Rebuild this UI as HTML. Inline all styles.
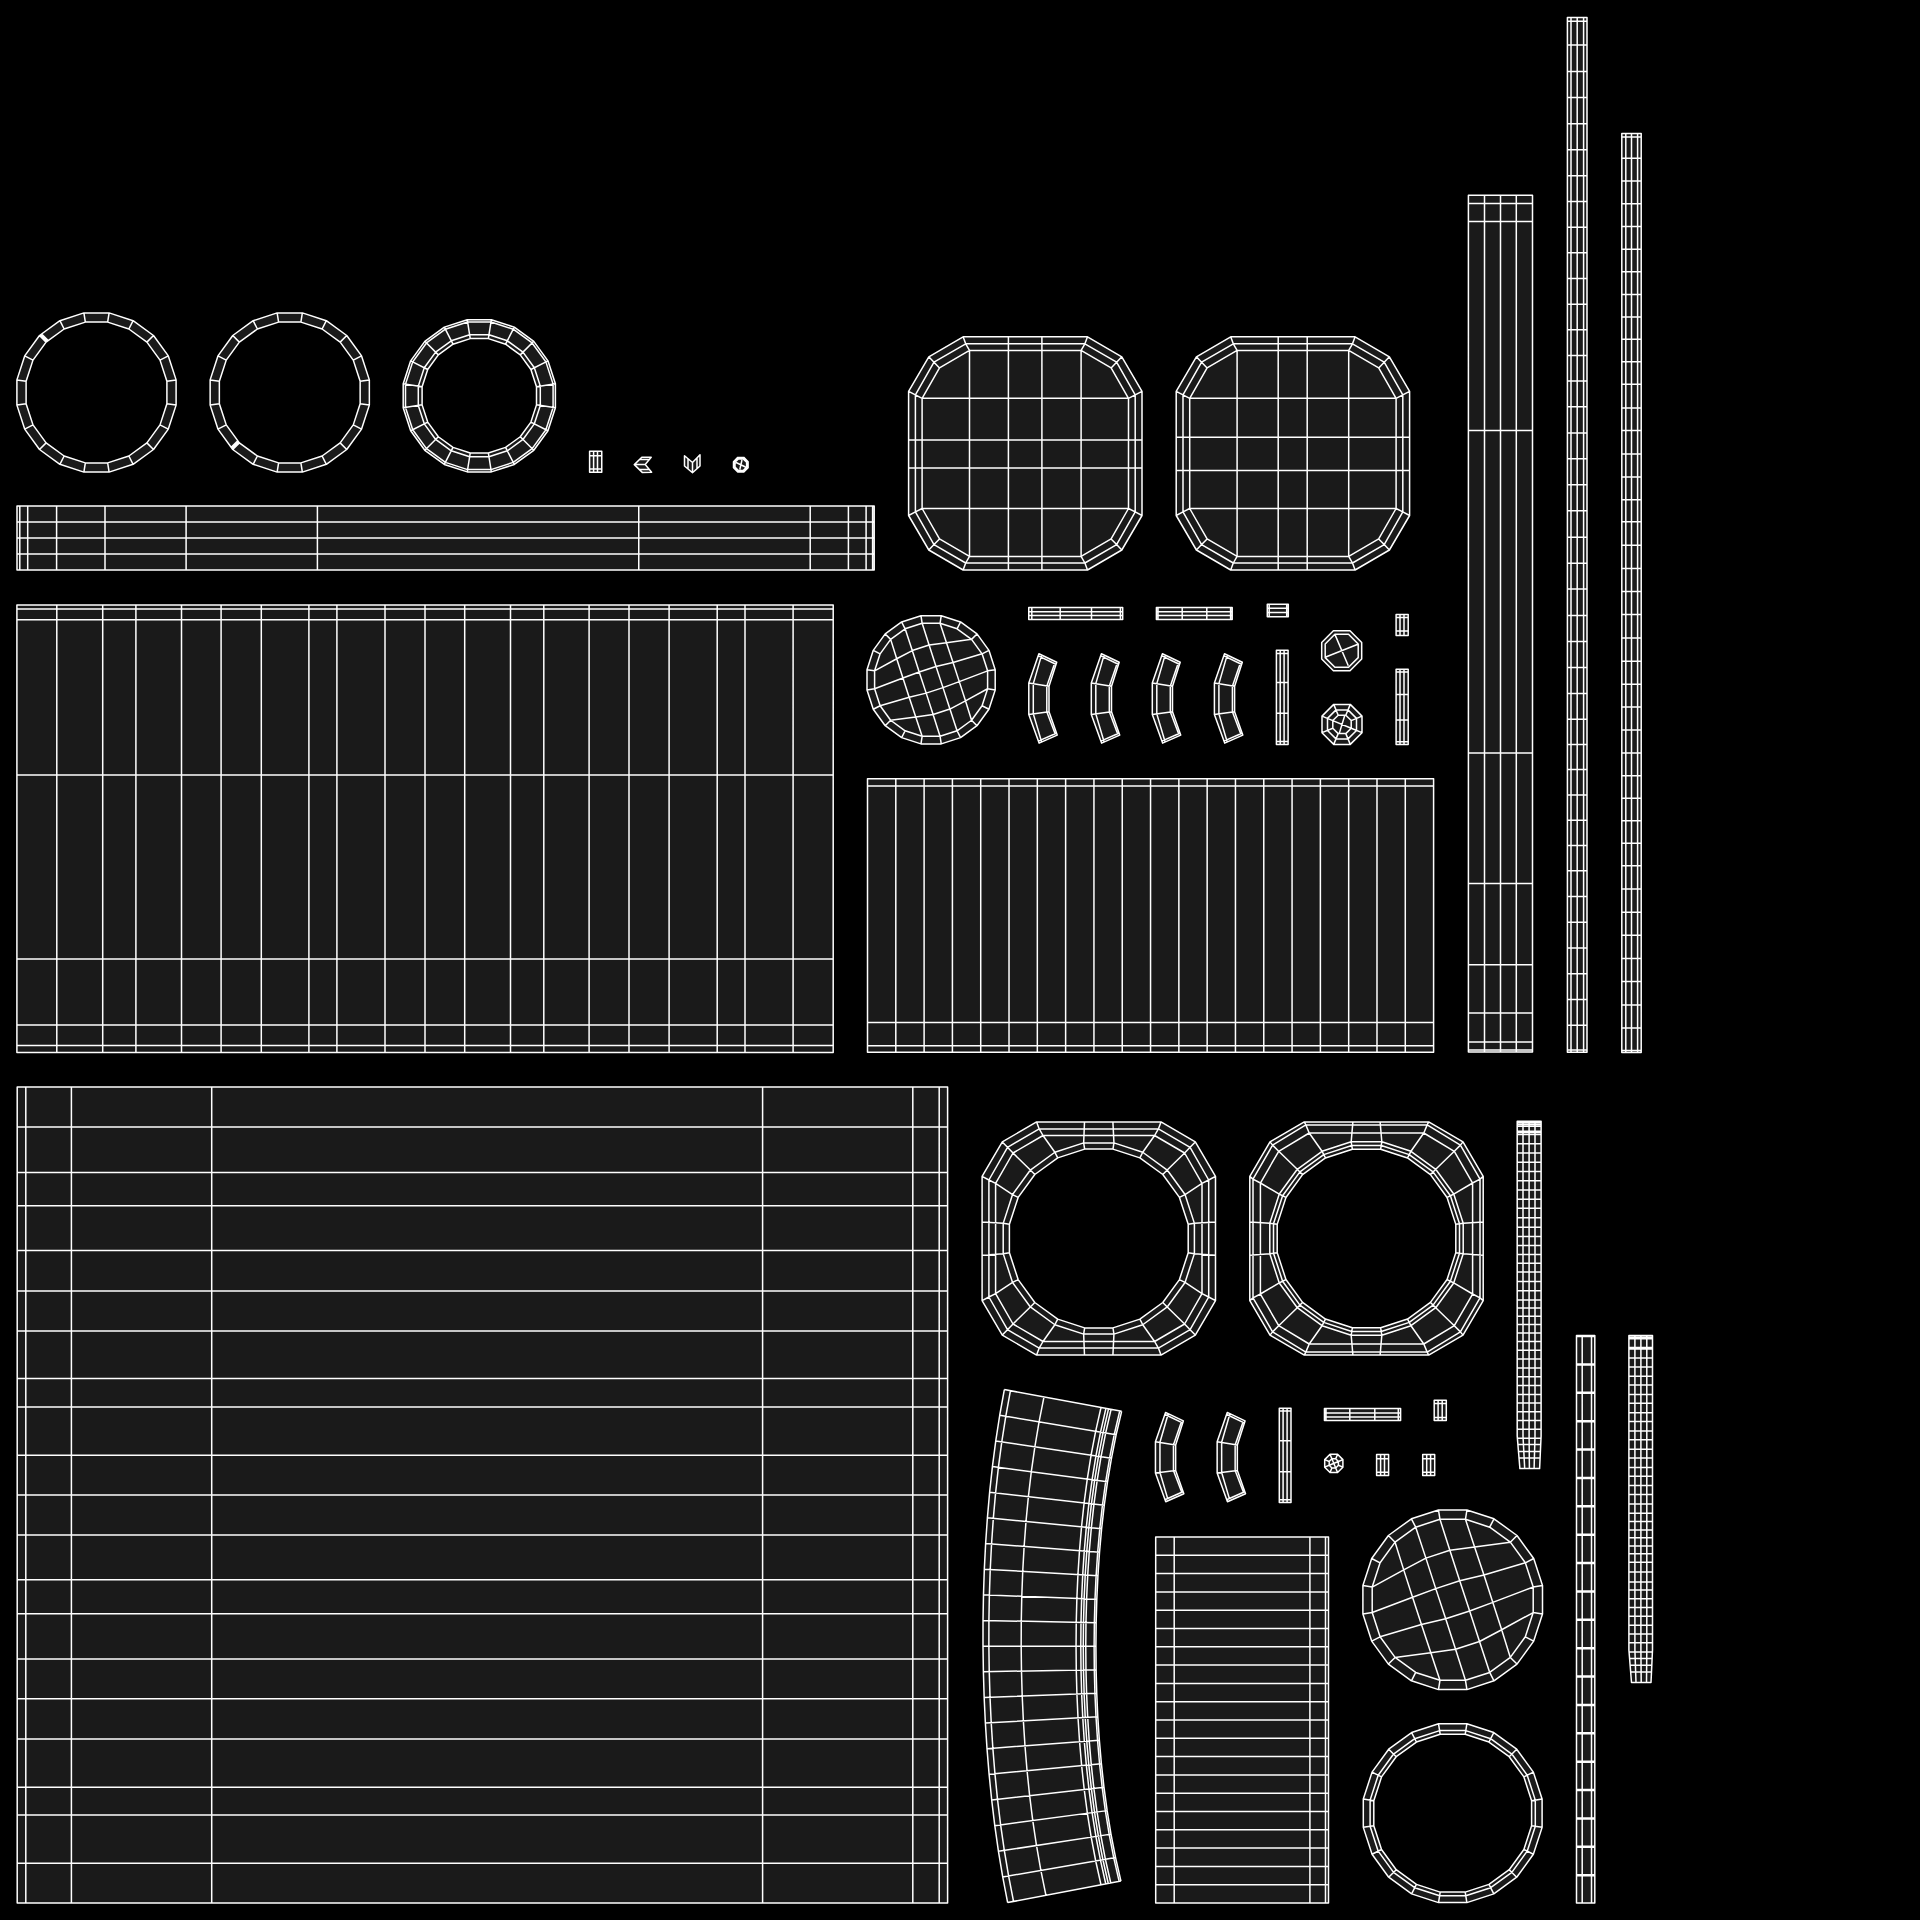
<!DOCTYPE html>
<html><head><meta charset="utf-8"><title>UV layout</title>
<style>html,body{margin:0;padding:0;background:#000;width:1920px;height:1920px;overflow:hidden}
svg{display:block}</style></head>
<body>
<svg width="1920" height="1920" viewBox="0 0 1920 1920">
<rect width="1920" height="1920" fill="#000"/>
<path fill="#1a1a1a" fill-rule="evenodd" d="M109.11 312.9 L83.89 312.9 L59.91 320.69 L39.51 335.51 L24.69 355.91 L16.9 379.89 L16.9 405.11 L24.69 429.09 L39.51 449.49 L59.91 464.31 L83.89 472.1 L109.11 472.1 L133.09 464.31 L153.49 449.49 L168.31 429.09 L176.1 405.11 L176.1 379.89 L168.31 355.91 L153.49 335.51 L133.09 320.69ZM107.65 322.1 L85.35 322.1 L64.14 328.99 L46.1 342.1 L32.99 360.14 L26.1 381.35 L26.1 403.65 L32.99 424.86 L46.1 442.9 L64.14 456.01 L85.35 462.9 L107.65 462.9 L128.86 456.01 L146.9 442.9 L160.01 424.86 L166.9 403.65 L166.9 381.35 L160.01 360.14 L146.9 342.1 L128.86 328.99ZM302.36 312.9 L277.14 312.9 L253.16 320.69 L232.76 335.51 L217.94 355.91 L210.15 379.89 L210.15 405.11 L217.94 429.09 L232.76 449.49 L253.16 464.31 L277.14 472.1 L302.36 472.1 L326.34 464.31 L346.74 449.49 L361.56 429.09 L369.35 405.11 L369.35 379.89 L361.56 355.91 L346.74 335.51 L326.34 320.69ZM300.9 322.1 L278.6 322.1 L257.39 328.99 L239.35 342.1 L226.24 360.14 L219.35 381.35 L219.35 403.65 L226.24 424.86 L239.35 442.9 L257.39 456.01 L278.6 462.9 L300.9 462.9 L322.11 456.01 L340.15 442.9 L353.26 424.86 L360.15 403.65 L360.15 381.35 L353.26 360.14 L340.15 342.1 L322.11 328.99ZM491.35 319.7 L467.25 319.7 L444.32 327.15 L424.82 341.32 L410.65 360.82 L403.2 383.75 L403.2 407.85 L410.65 430.78 L424.82 450.28 L444.32 464.45 L467.25 471.9 L491.35 471.9 L514.28 464.45 L533.78 450.28 L547.95 430.78 L555.4 407.85 L555.4 383.75 L547.95 360.82 L533.78 341.32 L514.28 327.15ZM488.36 338.6 L470.24 338.6 L453.01 344.2 L438.35 354.85 L427.7 369.51 L422.1 386.74 L422.1 404.86 L427.7 422.09 L438.35 436.75 L453.01 447.4 L470.24 453 L488.36 453 L505.59 447.4 L520.25 436.75 L530.9 422.09 L536.5 404.86 L536.5 386.74 L530.9 369.51 L520.25 354.85 L505.59 344.2ZM589.6 451.3 L601.75 451.3 L601.75 472.25 L589.6 472.25ZM634.3 464.6 L641.8 457.3 L651.2 457.3 L645.2 464.6 L651.6 472.2 L642.25 472.4ZM684.5 455.8 L692.5 462.5 L700 454.8 L700 466 L692.5 472.7 L684.5 466ZM743.82 457.4 L737.78 457.4 L733.5 461.68 L733.5 467.72 L737.78 472 L743.82 472 L748.1 467.72 L748.1 461.68ZM17 506 L874.2 506 L874.2 570 L17 570ZM16.9 604.9 L833.2 604.9 L833.2 1052.6 L16.9 1052.6ZM867.5 778.75 L1433.6 778.75 L1433.6 1052.3 L867.5 1052.3ZM963.1 336.8 L1087.5 336.8 L1121.8 356.8 L1142 391.3 L1142 515.5 L1121.8 550 L1087.5 570 L963.1 570 L928.8 550 L908.6 515.5 L908.6 391.3 L928.8 356.8ZM1230.7 336.8 L1355.1 336.8 L1389.4 356.8 L1409.6 391.3 L1409.6 515.5 L1389.4 550 L1355.1 570 L1230.7 570 L1196.4 550 L1176.2 515.5 L1176.2 391.3 L1196.4 356.8ZM1036.6 1121.9 L1161 1121.9 L1195.3 1141.9 L1215.5 1176.4 L1215.5 1300.6 L1195.3 1335.1 L1161 1355.1 L1036.6 1355.1 L1002.3 1335.1 L982.1 1300.6 L982.1 1176.4 L1002.3 1141.9ZM1112.96 1149.1 L1084.64 1149.1 L1057.71 1157.85 L1034.8 1174.5 L1018.15 1197.41 L1009.4 1224.34 L1009.4 1252.66 L1018.15 1279.59 L1034.8 1302.5 L1057.71 1319.15 L1084.64 1327.9 L1112.96 1327.9 L1139.89 1319.15 L1162.8 1302.5 L1179.45 1279.59 L1188.2 1252.66 L1188.2 1224.34 L1179.45 1197.41 L1162.8 1174.5 L1139.89 1157.85ZM1304.3 1121.9 L1428.7 1121.9 L1463 1141.9 L1483.2 1176.4 L1483.2 1300.6 L1463 1335.1 L1428.7 1355.1 L1304.3 1355.1 L1270 1335.1 L1249.8 1300.6 L1249.8 1176.4 L1270 1141.9ZM1380.64 1149.2 L1352.36 1149.2 L1325.45 1157.94 L1302.57 1174.57 L1285.94 1197.45 L1277.2 1224.36 L1277.2 1252.64 L1285.94 1279.55 L1302.57 1302.43 L1325.45 1319.06 L1352.36 1327.8 L1380.64 1327.8 L1407.55 1319.06 L1430.43 1302.43 L1447.06 1279.55 L1455.8 1252.64 L1455.8 1224.36 L1447.06 1197.45 L1430.43 1174.57 L1407.55 1157.94ZM941.25 615.7 L920.95 615.7 L901.64 621.97 L885.21 633.91 L873.27 650.34 L867 669.65 L867 689.95 L873.27 709.26 L885.21 725.69 L901.64 737.63 L920.95 743.9 L941.25 743.9 L960.56 737.63 L976.99 725.69 L988.93 709.26 L995.2 689.95 L995.2 669.65 L988.93 650.34 L976.99 633.91 L960.56 621.97ZM1466.92 1510 L1438.48 1510 L1411.42 1518.79 L1388.41 1535.51 L1371.69 1558.52 L1362.9 1585.58 L1362.9 1614.02 L1371.69 1641.08 L1388.41 1664.09 L1411.42 1680.81 L1438.48 1689.6 L1466.92 1689.6 L1493.98 1680.81 L1516.99 1664.09 L1533.71 1641.08 L1542.5 1614.02 L1542.5 1585.58 L1533.71 1558.52 L1516.99 1535.51 L1493.98 1518.79ZM1466.86 1723.8 L1438.54 1723.8 L1411.61 1732.55 L1388.7 1749.2 L1372.05 1772.11 L1363.3 1799.04 L1363.3 1827.36 L1372.05 1854.29 L1388.7 1877.2 L1411.61 1893.85 L1438.54 1902.6 L1466.86 1902.6 L1493.79 1893.85 L1516.7 1877.2 L1533.35 1854.29 L1542.1 1827.36 L1542.1 1799.04 L1533.35 1772.11 L1516.7 1749.2 L1493.79 1732.55ZM1465.2 1734.3 L1440.2 1734.3 L1416.43 1742.02 L1396.21 1756.71 L1381.52 1776.93 L1373.8 1800.7 L1373.8 1825.7 L1381.52 1849.47 L1396.21 1869.69 L1416.43 1884.38 L1440.2 1892.1 L1465.2 1892.1 L1488.97 1884.38 L1509.19 1869.69 L1523.88 1849.47 L1531.6 1825.7 L1531.6 1800.7 L1523.88 1776.93 L1509.19 1756.71 L1488.97 1742.02ZM1038.9 653.8 L1056.7 662.3 L1049 686.3 L1049 711.8 L1057.2 735.1 L1039.1 743.1 L1028.8 714.4 L1028.8 683.1ZM1101.4 653.8 L1119.2 662.3 L1111.5 686.3 L1111.5 711.8 L1119.7 735.1 L1101.6 743.1 L1091.3 714.4 L1091.3 683.1ZM1162.4 653.8 L1180.2 662.3 L1172.5 686.3 L1172.5 711.8 L1180.7 735.1 L1162.6 743.1 L1152.3 714.4 L1152.3 683.1ZM1224.5 653.8 L1242.3 662.3 L1234.6 686.3 L1234.6 711.8 L1242.8 735.1 L1224.7 743.1 L1214.4 714.4 L1214.4 683.1ZM1165.55 1412.4 L1183.35 1420.9 L1175.65 1444.9 L1175.65 1470.4 L1183.85 1493.7 L1165.75 1501.7 L1155.45 1473 L1155.45 1441.7ZM1227.25 1412.4 L1245.05 1420.9 L1237.35 1444.9 L1237.35 1470.4 L1245.55 1493.7 L1227.45 1501.7 L1217.15 1473 L1217.15 1441.7ZM1028.75 607.4 L1122.7 607.4 L1122.7 619.5 L1028.75 619.5ZM1156.4 607.4 L1232.2 607.4 L1232.2 619.5 L1156.4 619.5ZM1267.3 604.2 L1288.3 604.2 L1288.3 616.7 L1267.3 616.7ZM1276.4 650.3 L1288.1 650.3 L1288.1 744.6 L1276.4 744.6ZM1396.1 614.5 L1408.2 614.5 L1408.2 635.5 L1396.1 635.5ZM1396.1 669.2 L1408.2 669.2 L1408.2 744.6 L1396.1 744.6ZM1349.98 630.8 L1333.42 630.8 L1321.7 642.52 L1321.7 659.08 L1333.42 670.8 L1349.98 670.8 L1361.7 659.08 L1361.7 642.52ZM1350.28 704.4 L1333.72 704.4 L1322 716.12 L1322 732.68 L1333.72 744.4 L1350.28 744.4 L1362 732.68 L1362 716.12ZM1279.3 1408.3 L1291 1408.3 L1291 1502.5 L1279.3 1502.5ZM1324.45 1408.5 L1400.6 1408.5 L1400.6 1420.5 L1324.45 1420.5ZM1434.2 1400.2 L1446.3 1400.2 L1446.3 1420.6 L1434.2 1420.6ZM1376.6 1454.4 L1388.6 1454.4 L1388.6 1475.6 L1376.6 1475.6ZM1422.7 1454.4 L1434.7 1454.4 L1434.7 1475.6 L1422.7 1475.6ZM1337.57 1454.3 L1330.03 1454.3 L1324.7 1459.63 L1324.7 1467.17 L1330.03 1472.5 L1337.57 1472.5 L1342.9 1467.17 L1342.9 1459.63ZM1155.7 1537 L1328.5 1537 L1328.5 1903 L1155.7 1903ZM17.2 1087 L947.6 1087 L947.6 1902.9 L17.2 1902.9ZM1004.34 1389.6 L999.71 1415.25 L995.76 1440.9 L992.41 1466.55 L989.64 1492.2 L987.39 1517.85 L985.63 1543.5 L984.33 1569.15 L983.47 1594.8 L983.03 1620.45 L983 1646.1 L983.38 1671.75 L984.16 1697.4 L985.37 1723.05 L987.01 1748.7 L989.11 1774.35 L991.69 1800 L994.79 1825.65 L998.45 1851.3 L1002.72 1876.95 L1007.65 1902.6 L1120.96 1881.1 L1115.57 1857.61 L1110.99 1834.12 L1107.15 1810.63 L1103.96 1787.14 L1101.38 1763.65 L1099.34 1740.16 L1097.8 1716.67 L1096.74 1693.18 L1096.11 1669.69 L1095.92 1646.2 L1096.16 1622.71 L1096.82 1599.22 L1097.94 1575.73 L1099.53 1552.24 L1101.62 1528.75 L1104.27 1505.26 L1107.53 1481.77 L1111.46 1458.28 L1116.13 1434.79 L1121.64 1411.3ZM1468.4 195.3 L1532.5 195.3 L1532.5 195.3 L1532.5 1052.1 L1532.5 1052.1 L1468.4 1052.1 L1468.4 1052.1 L1468.4 195.3ZM1567.4 17.6 L1587 17.6 L1587 17.6 L1587 1052.3 L1587 1052.3 L1567.4 1052.3 L1567.4 1052.3 L1567.4 17.6ZM1621.8 133.5 L1641.2 133.5 L1641.2 133.5 L1641.2 1052.6 L1641.2 1052.6 L1621.8 1052.6 L1621.8 1052.6 L1621.8 133.5ZM1517.2 1121.25 L1541.1 1121.25 L1541.1 1436 L1539.6 1468.6 L1519.9 1468.6 L1517.2 1436ZM1576.5 1335.4 L1594.8 1335.4 L1594.8 1335.4 L1594.8 1903.1 L1594.8 1903.1 L1576.5 1903.1 L1576.5 1903.1 L1576.5 1335.4ZM1628.9 1335.4 L1652.5 1335.4 L1652.5 1650 L1651 1682.5 L1631.5 1682.5 L1628.9 1650Z"/>
<path fill="none" stroke="#ffffff" stroke-width="1.5" stroke-linejoin="round" d="M109.11 312.9 L83.89 312.9 L59.91 320.69 L39.51 335.51 L24.69 355.91 L16.9 379.89 L16.9 405.11 L24.69 429.09 L39.51 449.49 L59.91 464.31 L83.89 472.1 L109.11 472.1 L133.09 464.31 L153.49 449.49 L168.31 429.09 L176.1 405.11 L176.1 379.89 L168.31 355.91 L153.49 335.51 L133.09 320.69ZM107.65 322.1 L85.35 322.1 L64.14 328.99 L46.1 342.1 L32.99 360.14 L26.1 381.35 L26.1 403.65 L32.99 424.86 L46.1 442.9 L64.14 456.01 L85.35 462.9 L107.65 462.9 L128.86 456.01 L146.9 442.9 L160.01 424.86 L166.9 403.65 L166.9 381.35 L160.01 360.14 L146.9 342.1 L128.86 328.99ZM109.11 312.9L107.65 322.1M83.89 312.9L85.35 322.1M59.91 320.69L64.14 328.99M39.51 335.51L46.1 342.1M24.69 355.91L32.99 360.14M16.9 379.89L26.1 381.35M16.9 405.11L26.1 403.65M24.69 429.09L32.99 424.86M39.51 449.49L46.1 442.9M59.91 464.31L64.14 456.01M83.89 472.1L85.35 462.9M109.11 472.1L107.65 462.9M133.09 464.31L128.86 456.01M153.49 449.49L146.9 442.9M168.31 429.09L160.01 424.86M176.1 405.11L166.9 403.65M176.1 379.89L166.9 381.35M168.31 355.91L160.01 360.14M153.49 335.51L146.9 342.1M133.09 320.69L128.86 328.99M302.36 312.9 L277.14 312.9 L253.16 320.69 L232.76 335.51 L217.94 355.91 L210.15 379.89 L210.15 405.11 L217.94 429.09 L232.76 449.49 L253.16 464.31 L277.14 472.1 L302.36 472.1 L326.34 464.31 L346.74 449.49 L361.56 429.09 L369.35 405.11 L369.35 379.89 L361.56 355.91 L346.74 335.51 L326.34 320.69ZM300.9 322.1 L278.6 322.1 L257.39 328.99 L239.35 342.1 L226.24 360.14 L219.35 381.35 L219.35 403.65 L226.24 424.86 L239.35 442.9 L257.39 456.01 L278.6 462.9 L300.9 462.9 L322.11 456.01 L340.15 442.9 L353.26 424.86 L360.15 403.65 L360.15 381.35 L353.26 360.14 L340.15 342.1 L322.11 328.99ZM302.36 312.9L300.9 322.1M277.14 312.9L278.6 322.1M253.16 320.69L257.39 328.99M232.76 335.51L239.35 342.1M217.94 355.91L226.24 360.14M210.15 379.89L219.35 381.35M210.15 405.11L219.35 403.65M217.94 429.09L226.24 424.86M232.76 449.49L239.35 442.9M253.16 464.31L257.39 456.01M277.14 472.1L278.6 462.9M302.36 472.1L300.9 462.9M326.34 464.31L322.11 456.01M346.74 449.49L340.15 442.9M361.56 429.09L353.26 424.86M369.35 405.11L360.15 403.65M369.35 379.89L360.15 381.35M361.56 355.91L353.26 360.14M346.74 335.51L340.15 342.1M326.34 320.69L322.11 328.99M491.35 319.7 L467.25 319.7 L444.32 327.15 L424.82 341.32 L410.65 360.82 L403.2 383.75 L403.2 407.85 L410.65 430.78 L424.82 450.28 L444.32 464.45 L467.25 471.9 L491.35 471.9 L514.28 464.45 L533.78 450.28 L547.95 430.78 L555.4 407.85 L555.4 383.75 L547.95 360.82 L533.78 341.32 L514.28 327.15ZM490.99 322 L467.61 322 L445.38 329.22 L426.47 342.97 L412.72 361.88 L405.5 384.11 L405.5 407.49 L412.72 429.72 L426.47 448.63 L445.38 462.38 L467.61 469.6 L490.99 469.6 L513.22 462.38 L532.13 448.63 L545.88 429.72 L553.1 407.49 L553.1 384.11 L545.88 361.88 L532.13 342.97 L513.22 329.22ZM488.96 334.8 L469.64 334.8 L451.26 340.77 L435.63 352.13 L424.27 367.76 L418.3 386.14 L418.3 405.46 L424.27 423.84 L435.63 439.47 L451.26 450.83 L469.64 456.8 L488.96 456.8 L507.34 450.83 L522.97 439.47 L534.33 423.84 L540.3 405.46 L540.3 386.14 L534.33 367.76 L522.97 352.13 L507.34 340.77ZM488.36 338.6 L470.24 338.6 L453.01 344.2 L438.35 354.85 L427.7 369.51 L422.1 386.74 L422.1 404.86 L427.7 422.09 L438.35 436.75 L453.01 447.4 L470.24 453 L488.36 453 L505.59 447.4 L520.25 436.75 L530.9 422.09 L536.5 404.86 L536.5 386.74 L530.9 369.51 L520.25 354.85 L505.59 344.2ZM491.35 319.7L488.36 338.6M467.25 319.7L470.24 338.6M444.32 327.15L453.01 344.2M424.82 341.32L438.35 354.85M410.65 360.82L427.7 369.51M403.2 383.75L422.1 386.74M403.2 407.85L422.1 404.86M410.65 430.78L427.7 422.09M424.82 450.28L438.35 436.75M444.32 464.45L453.01 447.4M467.25 471.9L470.24 453M491.35 471.9L488.36 453M514.28 464.45L505.59 447.4M533.78 450.28L520.25 436.75M547.95 430.78L530.9 422.09M555.4 407.85L536.5 404.86M555.4 383.75L536.5 386.74M547.95 360.82L530.9 369.51M533.78 341.32L520.25 354.85M514.28 327.15L505.59 344.2M40.43 334.59L47.02 341.18M41.35 333.67L47.94 340.26M231.84 448.57L238.43 441.98M230.92 447.65L237.51 441.06M589.6 451.3 L601.75 451.3 L601.75 472.25 L589.6 472.25ZM593.6 451.3L593.6 472.25M597.5 451.3L597.5 472.25M589.6 455.7L601.75 455.7M589.6 469.1L601.75 469.1M634.3 464.6 L641.8 457.3 L651.2 457.3 L645.2 464.6 L651.6 472.2 L642.25 472.4ZM639.4 459.6L649.3 459.6M634.3 464.6L645.2 464.6M639.3 469.6L649.6 469.6M684.5 455.8 L692.5 462.5 L700 454.8 L700 466 L692.5 472.7 L684.5 466ZM692.5 462.5L692.5 472.7M688 458.8L688 469M697 457.5L697 469M743.82 457.4 L737.78 457.4 L733.5 461.68 L733.5 467.72 L737.78 472 L743.82 472 L748.1 467.72 L748.1 461.68ZM743.2 458.9 L738.4 458.9 L735 462.3 L735 467.1 L738.4 470.5 L743.2 470.5 L746.6 467.1 L746.6 462.3ZM736 462.5L745.5 467M739.8 469.5L742 460M17 506 L874.2 506 L874.2 570 L17 570ZM19.8 506L19.8 570M27.7 506L27.7 570M56.6 506L56.6 570M105 506L105 570M186.1 506L186.1 570M317.4 506L317.4 570M638.75 506L638.75 570M810.2 506L810.2 570M848.4 506L848.4 570M866.1 506L866.1 570M872.6 506L872.6 570M17 522.1L874.2 522.1M17 538.1L874.2 538.1M17 554.1L874.2 554.1M16.9 604.9 L833.2 604.9 L833.2 1052.6 L16.9 1052.6ZM56.8 604.9L56.8 1052.6M102.7 604.9L102.7 1052.6M135.9 604.9L135.9 1052.6M181.5 604.9L181.5 1052.6M221.1 604.9L221.1 1052.6M261.3 604.9L261.3 1052.6M308.9 604.9L308.9 1052.6M336.9 604.9L336.9 1052.6M385 604.9L385 1052.6M425 604.9L425 1052.6M464.7 604.9L464.7 1052.6M510.5 604.9L510.5 1052.6M543.8 604.9L543.8 1052.6M589.1 604.9L589.1 1052.6M629 604.9L629 1052.6M669.1 604.9L669.1 1052.6M717.2 604.9L717.2 1052.6M745 604.9L745 1052.6M793.1 604.9L793.1 1052.6M16.9 609L833.2 609M16.9 619.8L833.2 619.8M16.9 775L833.2 775M16.9 959L833.2 959M16.9 1024.9L833.2 1024.9M16.9 1045.4L833.2 1045.4M867.5 778.75 L1433.6 778.75 L1433.6 1052.3 L867.5 1052.3ZM895.8 778.75L895.8 1052.3M924.11 778.75L924.11 1052.3M952.41 778.75L952.41 1052.3M980.72 778.75L980.72 1052.3M1009.02 778.75L1009.02 1052.3M1037.33 778.75L1037.33 1052.3M1065.63 778.75L1065.63 1052.3M1093.94 778.75L1093.94 1052.3M1122.24 778.75L1122.24 1052.3M1150.55 778.75L1150.55 1052.3M1178.86 778.75L1178.86 1052.3M1207.16 778.75L1207.16 1052.3M1235.46 778.75L1235.46 1052.3M1263.77 778.75L1263.77 1052.3M1292.07 778.75L1292.07 1052.3M1320.38 778.75L1320.38 1052.3M1348.68 778.75L1348.68 1052.3M1376.99 778.75L1376.99 1052.3M1405.29 778.75L1405.29 1052.3M867.5 786.1L1433.6 786.1M867.5 1022.5L1433.6 1022.5M867.5 1045.8L1433.6 1045.8M963.1 336.8 L1087.5 336.8 L1121.8 356.8 L1142 391.3 L1142 515.5 L1121.8 550 L1087.5 570 L963.1 570 L928.8 550 L908.6 515.5 L908.6 391.3 L928.8 356.8ZM965.7 343.8 L1084.9 343.8 L1116.6 362.2 L1135.2 394.9 L1135.2 511.9 L1116.6 544.6 L1084.9 563 L965.7 563 L934 544.6 L915.4 511.9 L915.4 394.9 L934 362.2ZM969.5 350.4 L1081.1 350.4 L1111.1 367.9 L1128.5 398.3 L1128.5 508.5 L1111.1 538.9 L1081.1 556.4 L969.5 556.4 L939.5 538.9 L922.1 508.5 L922.1 398.3 L939.5 367.9ZM963.1 336.8 L965.7 343.8 L969.5 350.4M1087.5 336.8 L1084.9 343.8 L1081.1 350.4M1121.8 356.8 L1116.6 362.2 L1111.1 367.9M1142 391.3 L1135.2 394.9 L1128.5 398.3M1142 515.5 L1135.2 511.9 L1128.5 508.5M1121.8 550 L1116.6 544.6 L1111.1 538.9M1087.5 570 L1084.9 563 L1081.1 556.4M963.1 570 L965.7 563 L969.5 556.4M928.8 550 L934 544.6 L939.5 538.9M908.6 515.5 L915.4 511.9 L922.1 508.5M908.6 391.3 L915.4 394.9 L922.1 398.3M928.8 356.8 L934 362.2 L939.5 367.9M969.5 350.4L969.5 556.4M1081.1 350.4L1081.1 556.4M922.1 398.3L1128.5 398.3M922.1 508.5L1128.5 508.5M1008.4 336.8L1008.4 570M1041.9 336.8L1041.9 570M908.6 439.9L1142 439.9M908.6 467.9L1142 467.9M1230.7 336.8 L1355.1 336.8 L1389.4 356.8 L1409.6 391.3 L1409.6 515.5 L1389.4 550 L1355.1 570 L1230.7 570 L1196.4 550 L1176.2 515.5 L1176.2 391.3 L1196.4 356.8ZM1233.3 343.8 L1352.5 343.8 L1384.2 362.2 L1402.8 394.9 L1402.8 511.9 L1384.2 544.6 L1352.5 563 L1233.3 563 L1201.6 544.6 L1183 511.9 L1183 394.9 L1201.6 362.2ZM1237.1 350.4 L1348.7 350.4 L1378.7 367.9 L1396.1 398.3 L1396.1 508.5 L1378.7 538.9 L1348.7 556.4 L1237.1 556.4 L1207.1 538.9 L1189.7 508.5 L1189.7 398.3 L1207.1 367.9ZM1230.7 336.8 L1233.3 343.8 L1237.1 350.4M1355.1 336.8 L1352.5 343.8 L1348.7 350.4M1389.4 356.8 L1384.2 362.2 L1378.7 367.9M1409.6 391.3 L1402.8 394.9 L1396.1 398.3M1409.6 515.5 L1402.8 511.9 L1396.1 508.5M1389.4 550 L1384.2 544.6 L1378.7 538.9M1355.1 570 L1352.5 563 L1348.7 556.4M1230.7 570 L1233.3 563 L1237.1 556.4M1196.4 550 L1201.6 544.6 L1207.1 538.9M1176.2 515.5 L1183 511.9 L1189.7 508.5M1176.2 391.3 L1183 394.9 L1189.7 398.3M1196.4 356.8 L1201.6 362.2 L1207.1 367.9M1237.1 350.4L1237.1 556.4M1348.7 350.4L1348.7 556.4M1189.7 398.3L1396.1 398.3M1189.7 508.5L1396.1 508.5M1278.2 336.8L1278.2 570M1307.2 336.8L1307.2 570M1176.2 437.2L1409.6 437.2M1176.2 470.6L1409.6 470.6M1036.6 1121.9 L1161 1121.9 L1195.3 1141.9 L1215.5 1176.4 L1215.5 1300.6 L1195.3 1335.1 L1161 1355.1 L1036.6 1355.1 L1002.3 1335.1 L982.1 1300.6 L982.1 1176.4 L1002.3 1141.9ZM1039.2 1128.9 L1158.4 1128.9 L1190.1 1147.3 L1208.7 1180 L1208.7 1297 L1190.1 1329.7 L1158.4 1348.1 L1039.2 1348.1 L1007.5 1329.7 L988.9 1297 L988.9 1180 L1007.5 1147.3ZM1043 1135.5 L1154.6 1135.5 L1184.6 1153 L1202 1183.4 L1202 1293.6 L1184.6 1324 L1154.6 1341.5 L1043 1341.5 L1013 1324 L995.6 1293.6 L995.6 1183.4 L1013 1153ZM1113.94 1142.9 L1083.66 1142.9 L1054.86 1152.26 L1030.36 1170.06 L1012.56 1194.56 L1003.2 1223.36 L1003.2 1253.64 L1012.56 1282.44 L1030.36 1306.94 L1054.86 1324.74 L1083.66 1334.1 L1113.94 1334.1 L1142.74 1324.74 L1167.24 1306.94 L1185.04 1282.44 L1194.4 1253.64 L1194.4 1223.36 L1185.04 1194.56 L1167.24 1170.06 L1142.74 1152.26ZM1112.96 1149.1 L1084.64 1149.1 L1057.71 1157.85 L1034.8 1174.5 L1018.15 1197.41 L1009.4 1224.34 L1009.4 1252.66 L1018.15 1279.59 L1034.8 1302.5 L1057.71 1319.15 L1084.64 1327.9 L1112.96 1327.9 L1139.89 1319.15 L1162.8 1302.5 L1179.45 1279.59 L1188.2 1252.66 L1188.2 1224.34 L1179.45 1197.41 L1162.8 1174.5 L1139.89 1157.85ZM1036.6 1121.9 L1039.2 1128.9 L1043 1135.5 L1054.86 1152.26 L1057.71 1157.85M1161 1121.9 L1158.4 1128.9 L1154.6 1135.5 L1142.74 1152.26 L1139.89 1157.85M1195.3 1141.9 L1190.1 1147.3 L1184.6 1153 L1167.24 1170.06 L1162.8 1174.5M1215.5 1176.4 L1208.7 1180 L1202 1183.4 L1185.04 1194.56 L1179.45 1197.41M1215.5 1300.6 L1208.7 1297 L1202 1293.6 L1185.04 1282.44 L1179.45 1279.59M1195.3 1335.1 L1190.1 1329.7 L1184.6 1324 L1167.24 1306.94 L1162.8 1302.5M1161 1355.1 L1158.4 1348.1 L1154.6 1341.5 L1142.74 1324.74 L1139.89 1319.15M1036.6 1355.1 L1039.2 1348.1 L1043 1341.5 L1054.86 1324.74 L1057.71 1319.15M1002.3 1335.1 L1007.5 1329.7 L1013 1324 L1030.36 1306.94 L1034.8 1302.5M982.1 1300.6 L988.9 1297 L995.6 1293.6 L1012.56 1282.44 L1018.15 1279.59M982.1 1176.4 L988.9 1180 L995.6 1183.4 L1012.56 1194.56 L1018.15 1197.41M1002.3 1141.9 L1007.5 1147.3 L1013 1153 L1030.36 1170.06 L1034.8 1174.5M1084.5 1121.9 L1083.66 1142.9 L1084.64 1149.1M1112.9 1121.9 L1113.94 1142.9 L1112.96 1149.1M1084.5 1355.1 L1083.66 1334.1 L1084.64 1327.9M1112.9 1355.1 L1113.94 1334.1 L1112.96 1327.9M982.1 1222.1 L1003.2 1223.36 L1009.4 1224.34M982.1 1255.2 L1003.2 1253.64 L1009.4 1252.66M1215.5 1222.1 L1194.4 1223.36 L1188.2 1224.34M1215.5 1255.2 L1194.4 1253.64 L1188.2 1252.66M1304.3 1121.9 L1428.7 1121.9 L1463 1141.9 L1483.2 1176.4 L1483.2 1300.6 L1463 1335.1 L1428.7 1355.1 L1304.3 1355.1 L1270 1335.1 L1249.8 1300.6 L1249.8 1176.4 L1270 1141.9ZM1305.8 1124.9 L1427.2 1124.9 L1460.4 1145.1 L1480 1179.1 L1480 1297.9 L1460.4 1331.9 L1427.2 1352.1 L1305.8 1352.1 L1272.6 1331.9 L1253 1297.9 L1253 1179.1 L1272.6 1145.1ZM1309.2 1133 L1423.8 1133 L1454.3 1151.3 L1472.6 1183 L1472.6 1294 L1454.3 1325.7 L1423.8 1344 L1309.2 1344 L1278.7 1325.7 L1260.4 1294 L1260.4 1183 L1278.7 1151.3ZM1381.82 1141.8 L1351.18 1141.8 L1322.05 1151.27 L1297.27 1169.27 L1279.27 1194.05 L1269.8 1223.18 L1269.8 1253.82 L1279.27 1282.95 L1297.27 1307.73 L1322.05 1325.73 L1351.18 1335.2 L1381.82 1335.2 L1410.95 1325.73 L1435.73 1307.73 L1453.73 1282.95 L1463.2 1253.82 L1463.2 1223.18 L1453.73 1194.05 L1435.73 1169.27 L1410.95 1151.27ZM1381.23 1145.5 L1351.77 1145.5 L1323.75 1154.6 L1299.92 1171.92 L1282.6 1195.75 L1273.5 1223.77 L1273.5 1253.23 L1282.6 1281.25 L1299.92 1305.08 L1323.75 1322.4 L1351.77 1331.5 L1381.23 1331.5 L1409.25 1322.4 L1433.08 1305.08 L1450.4 1281.25 L1459.5 1253.23 L1459.5 1223.77 L1450.4 1195.75 L1433.08 1171.92 L1409.25 1154.6ZM1380.64 1149.2 L1352.36 1149.2 L1325.45 1157.94 L1302.57 1174.57 L1285.94 1197.45 L1277.2 1224.36 L1277.2 1252.64 L1285.94 1279.55 L1302.57 1302.43 L1325.45 1319.06 L1352.36 1327.8 L1380.64 1327.8 L1407.55 1319.06 L1430.43 1302.43 L1447.06 1279.55 L1455.8 1252.64 L1455.8 1224.36 L1447.06 1197.45 L1430.43 1174.57 L1407.55 1157.94ZM1304.3 1121.9 L1305.8 1124.9 L1309.2 1133 L1322.05 1151.27 L1323.75 1154.6 L1325.45 1157.94M1428.7 1121.9 L1427.2 1124.9 L1423.8 1133 L1410.95 1151.27 L1409.25 1154.6 L1407.55 1157.94M1463 1141.9 L1460.4 1145.1 L1454.3 1151.3 L1435.73 1169.27 L1433.08 1171.92 L1430.43 1174.57M1483.2 1176.4 L1480 1179.1 L1472.6 1183 L1453.73 1194.05 L1450.4 1195.75 L1447.06 1197.45M1483.2 1300.6 L1480 1297.9 L1472.6 1294 L1453.73 1282.95 L1450.4 1281.25 L1447.06 1279.55M1463 1335.1 L1460.4 1331.9 L1454.3 1325.7 L1435.73 1307.73 L1433.08 1305.08 L1430.43 1302.43M1428.7 1355.1 L1427.2 1352.1 L1423.8 1344 L1410.95 1325.73 L1409.25 1322.4 L1407.55 1319.06M1304.3 1355.1 L1305.8 1352.1 L1309.2 1344 L1322.05 1325.73 L1323.75 1322.4 L1325.45 1319.06M1270 1335.1 L1272.6 1331.9 L1278.7 1325.7 L1297.27 1307.73 L1299.92 1305.08 L1302.57 1302.43M1249.8 1300.6 L1253 1297.9 L1260.4 1294 L1279.27 1282.95 L1282.6 1281.25 L1285.94 1279.55M1249.8 1176.4 L1253 1179.1 L1260.4 1183 L1279.27 1194.05 L1282.6 1195.75 L1285.94 1197.45M1270 1141.9 L1272.6 1145.1 L1278.7 1151.3 L1297.27 1169.27 L1299.92 1171.92 L1302.57 1174.57M1352.9 1121.9 L1351.18 1141.8 L1351.77 1145.5 L1352.36 1149.2M1380.1 1121.9 L1381.82 1141.8 L1381.23 1145.5 L1380.64 1149.2M1352.9 1355.1 L1351.18 1335.2 L1351.77 1331.5 L1352.36 1327.8M1380.1 1355.1 L1381.82 1335.2 L1381.23 1331.5 L1380.64 1327.8M1249.8 1222.1 L1269.8 1223.18 L1273.5 1223.77 L1277.2 1224.36M1249.8 1255.2 L1269.8 1253.82 L1273.5 1253.23 L1277.2 1252.64M1483.2 1222.1 L1463.2 1223.18 L1459.5 1223.77 L1455.8 1224.36M1483.2 1255.2 L1463.2 1253.82 L1459.5 1253.23 L1455.8 1252.64M941.25 615.7 L920.95 615.7 L901.64 621.97 L885.21 633.91 L873.27 650.34 L867 669.65 L867 689.95 L873.27 709.26 L885.21 725.69 L901.64 737.63 L920.95 743.9 L941.25 743.9 L960.56 737.63 L976.99 725.69 L988.93 709.26 L995.2 689.95 L995.2 669.65 L988.93 650.34 L976.99 633.91 L960.56 621.97ZM940.05 623.3 L922.15 623.3 L905.13 628.83 L890.65 639.35 L880.13 653.83 L874.6 670.85 L874.6 688.75 L880.13 705.77 L890.65 720.25 L905.13 730.77 L922.15 736.3 L940.05 736.3 L957.07 730.77 L971.55 720.25 L982.07 705.77 L987.6 688.75 L987.6 670.85 L982.07 653.83 L971.55 639.35 L957.07 628.83ZM941.25 615.7L940.05 623.3M920.95 615.7L922.15 623.3M901.64 621.97L905.13 628.83M885.21 633.91L890.65 639.35M873.27 650.34L880.13 653.83M867 669.65L874.6 670.85M867 689.95L874.6 688.75M873.27 709.26L880.13 705.77M885.21 725.69L890.65 720.25M901.64 737.63L905.13 730.77M920.95 743.9L922.15 736.3M941.25 743.9L940.05 736.3M960.56 737.63L957.07 730.77M976.99 725.69L971.55 720.25M988.93 709.26L982.07 705.77M995.2 689.95L987.6 688.75M995.2 669.65L987.6 670.85M988.93 650.34L982.07 653.83M976.99 633.91L971.55 639.35M960.56 621.97L957.07 628.83M890.65 639.35 L896.72 658.78 L902.93 677.97 L909.16 697.19 L915.74 716.93 L922.15 736.3M905.13 628.83 L912.28 650.54 L919.2 671.96 L926.18 693.13 L933.1 714.55 L940.05 736.3M922.15 623.3 L929.1 645.05 L936.02 666.47 L943 687.64 L949.92 709.06 L957.07 730.77M940.05 623.3 L946.46 642.67 L953.04 662.41 L959.27 681.63 L965.48 700.82 L971.55 720.25M874.6 670.85 L896.72 658.78 L912.28 650.54 L929.1 645.05 L946.46 642.67 L971.55 639.35M874.6 688.75 L902.93 677.97 L919.2 671.96 L936.02 666.47 L953.04 662.41 L982.07 653.83M880.13 705.77 L909.16 697.19 L926.18 693.13 L943 687.64 L959.27 681.63 L987.6 670.85M890.65 720.25 L915.74 716.93 L933.1 714.55 L949.92 709.06 L965.48 700.82 L987.6 688.75M1466.92 1510 L1438.48 1510 L1411.42 1518.79 L1388.41 1535.51 L1371.69 1558.52 L1362.9 1585.58 L1362.9 1614.02 L1371.69 1641.08 L1388.41 1664.09 L1411.42 1680.81 L1438.48 1689.6 L1466.92 1689.6 L1493.98 1680.81 L1516.99 1664.09 L1533.71 1641.08 L1542.5 1614.02 L1542.5 1585.58 L1533.71 1558.52 L1516.99 1535.51 L1493.98 1518.79ZM1465.45 1519.3 L1439.95 1519.3 L1415.7 1527.18 L1395.07 1542.17 L1380.08 1562.8 L1372.2 1587.05 L1372.2 1612.55 L1380.08 1636.8 L1395.07 1657.43 L1415.7 1672.42 L1439.95 1680.3 L1465.45 1680.3 L1489.7 1672.42 L1510.33 1657.43 L1525.32 1636.8 L1533.2 1612.55 L1533.2 1587.05 L1525.32 1562.8 L1510.33 1542.17 L1489.7 1527.18ZM1466.92 1510L1465.45 1519.3M1438.48 1510L1439.95 1519.3M1411.42 1518.79L1415.7 1527.18M1388.41 1535.51L1395.07 1542.17M1371.69 1558.52L1380.08 1562.8M1362.9 1585.58L1372.2 1587.05M1362.9 1614.02L1372.2 1612.55M1371.69 1641.08L1380.08 1636.8M1388.41 1664.09L1395.07 1657.43M1411.42 1680.81L1415.7 1672.42M1438.48 1689.6L1439.95 1680.3M1466.92 1689.6L1465.45 1680.3M1493.98 1680.81L1489.7 1672.42M1516.99 1664.09L1510.33 1657.43M1533.71 1641.08L1525.32 1636.8M1542.5 1614.02L1533.2 1612.55M1542.5 1585.58L1533.2 1587.05M1533.71 1558.52L1525.32 1562.8M1516.99 1535.51L1510.33 1542.17M1493.98 1518.79L1489.7 1527.18M1395.07 1542.17 L1403.72 1569.85 L1412.56 1597.19 L1421.44 1624.58 L1430.82 1652.7 L1439.95 1680.3M1415.7 1527.18 L1425.89 1558.11 L1435.75 1588.63 L1445.69 1618.79 L1455.55 1649.31 L1465.45 1680.3M1439.95 1519.3 L1449.85 1550.29 L1459.71 1580.81 L1469.65 1610.97 L1479.51 1641.49 L1489.7 1672.42M1465.45 1519.3 L1474.58 1546.9 L1483.96 1575.02 L1492.84 1602.41 L1501.68 1629.75 L1510.33 1657.43M1372.2 1587.05 L1403.72 1569.85 L1425.89 1558.11 L1449.85 1550.29 L1474.58 1546.9 L1510.33 1542.17M1372.2 1612.55 L1412.56 1597.19 L1435.75 1588.63 L1459.71 1580.81 L1483.96 1575.02 L1525.32 1562.8M1380.08 1636.8 L1421.44 1624.58 L1445.69 1618.79 L1469.65 1610.97 L1492.84 1602.41 L1533.2 1587.05M1395.07 1657.43 L1430.82 1652.7 L1455.55 1649.31 L1479.51 1641.49 L1501.68 1629.75 L1533.2 1612.55M1466.86 1723.8 L1438.54 1723.8 L1411.61 1732.55 L1388.7 1749.2 L1372.05 1772.11 L1363.3 1799.04 L1363.3 1827.36 L1372.05 1854.29 L1388.7 1877.2 L1411.61 1893.85 L1438.54 1902.6 L1466.86 1902.6 L1493.79 1893.85 L1516.7 1877.2 L1533.35 1854.29 L1542.1 1827.36 L1542.1 1799.04 L1533.35 1772.11 L1516.7 1749.2 L1493.79 1732.55ZM1465.78 1730.6 L1439.62 1730.6 L1414.73 1738.69 L1393.56 1754.06 L1378.19 1775.23 L1370.1 1800.12 L1370.1 1826.28 L1378.19 1851.17 L1393.56 1872.34 L1414.73 1887.71 L1439.62 1895.8 L1465.78 1895.8 L1490.67 1887.71 L1511.84 1872.34 L1527.21 1851.17 L1535.3 1826.28 L1535.3 1800.12 L1527.21 1775.23 L1511.84 1754.06 L1490.67 1738.69ZM1465.2 1734.3 L1440.2 1734.3 L1416.43 1742.02 L1396.21 1756.71 L1381.52 1776.93 L1373.8 1800.7 L1373.8 1825.7 L1381.52 1849.47 L1396.21 1869.69 L1416.43 1884.38 L1440.2 1892.1 L1465.2 1892.1 L1488.97 1884.38 L1509.19 1869.69 L1523.88 1849.47 L1531.6 1825.7 L1531.6 1800.7 L1523.88 1776.93 L1509.19 1756.71 L1488.97 1742.02ZM1466.86 1723.8L1465.2 1734.3M1438.54 1723.8L1440.2 1734.3M1411.61 1732.55L1416.43 1742.02M1388.7 1749.2L1396.21 1756.71M1372.05 1772.11L1381.52 1776.93M1363.3 1799.04L1373.8 1800.7M1363.3 1827.36L1373.8 1825.7M1372.05 1854.29L1381.52 1849.47M1388.7 1877.2L1396.21 1869.69M1411.61 1893.85L1416.43 1884.38M1438.54 1902.6L1440.2 1892.1M1466.86 1902.6L1465.2 1892.1M1493.79 1893.85L1488.97 1884.38M1516.7 1877.2L1509.19 1869.69M1533.35 1854.29L1523.88 1849.47M1542.1 1827.36L1531.6 1825.7M1542.1 1799.04L1531.6 1800.7M1533.35 1772.11L1523.88 1776.93M1516.7 1749.2L1509.19 1756.71M1493.79 1732.55L1488.97 1742.02M1038.9 653.8 L1056.7 662.3 L1049 686.3 L1049 711.8 L1057.2 735.1 L1039.1 743.1 L1028.8 714.4 L1028.8 683.1ZM1041.5 655.4 L1033.3 683.6 L1033.3 713.9 L1041.5 741.5M1054.6 663.6 L1046.8 686.3 L1046.8 711.8 L1055.2 733.9M1028.8 683.1L1049 686.3M1028.8 714.4L1049 711.8M1038.4 655.9L1055.8 664.3M1038.8 740.9L1056.3 733.2M1101.4 653.8 L1119.2 662.3 L1111.5 686.3 L1111.5 711.8 L1119.7 735.1 L1101.6 743.1 L1091.3 714.4 L1091.3 683.1ZM1104 655.4 L1095.8 683.6 L1095.8 713.9 L1104 741.5M1117.1 663.6 L1109.3 686.3 L1109.3 711.8 L1117.7 733.9M1091.3 683.1L1111.5 686.3M1091.3 714.4L1111.5 711.8M1100.9 655.9L1118.3 664.3M1101.3 740.9L1118.8 733.2M1162.4 653.8 L1180.2 662.3 L1172.5 686.3 L1172.5 711.8 L1180.7 735.1 L1162.6 743.1 L1152.3 714.4 L1152.3 683.1ZM1165 655.4 L1156.8 683.6 L1156.8 713.9 L1165 741.5M1178.1 663.6 L1170.3 686.3 L1170.3 711.8 L1178.7 733.9M1152.3 683.1L1172.5 686.3M1152.3 714.4L1172.5 711.8M1161.9 655.9L1179.3 664.3M1162.3 740.9L1179.8 733.2M1224.5 653.8 L1242.3 662.3 L1234.6 686.3 L1234.6 711.8 L1242.8 735.1 L1224.7 743.1 L1214.4 714.4 L1214.4 683.1ZM1227.1 655.4 L1218.9 683.6 L1218.9 713.9 L1227.1 741.5M1240.2 663.6 L1232.4 686.3 L1232.4 711.8 L1240.8 733.9M1214.4 683.1L1234.6 686.3M1214.4 714.4L1234.6 711.8M1224 655.9L1241.4 664.3M1224.4 740.9L1241.9 733.2M1165.55 1412.4 L1183.35 1420.9 L1175.65 1444.9 L1175.65 1470.4 L1183.85 1493.7 L1165.75 1501.7 L1155.45 1473 L1155.45 1441.7ZM1168.15 1414 L1159.95 1442.2 L1159.95 1472.5 L1168.15 1500.1M1181.25 1422.2 L1173.45 1444.9 L1173.45 1470.4 L1181.85 1492.5M1155.45 1441.7L1175.65 1444.9M1155.45 1473L1175.65 1470.4M1165.05 1414.5L1182.45 1422.9M1165.45 1499.5L1182.95 1491.8M1227.25 1412.4 L1245.05 1420.9 L1237.35 1444.9 L1237.35 1470.4 L1245.55 1493.7 L1227.45 1501.7 L1217.15 1473 L1217.15 1441.7ZM1229.85 1414 L1221.65 1442.2 L1221.65 1472.5 L1229.85 1500.1M1242.95 1422.2 L1235.15 1444.9 L1235.15 1470.4 L1243.55 1492.5M1217.15 1441.7L1237.35 1444.9M1217.15 1473L1237.35 1470.4M1226.75 1414.5L1244.15 1422.9M1227.15 1499.5L1244.65 1491.8M1028.75 607.4 L1122.7 607.4 L1122.7 619.5 L1028.75 619.5ZM1031.8 607.4L1031.8 619.5M1060.2 607.4L1060.2 619.5M1091.5 607.4L1091.5 619.5M1120.4 607.4L1120.4 619.5M1028.75 611.7L1122.7 611.7M1028.75 615.6L1122.7 615.6M1156.4 607.4 L1232.2 607.4 L1232.2 619.5 L1156.4 619.5ZM1158 607.4L1158 619.5M1182.2 607.4L1182.2 619.5M1206.8 607.4L1206.8 619.5M1230.6 607.4L1230.6 619.5M1156.4 611.7L1232.2 611.7M1156.4 615.6L1232.2 615.6M1267.3 604.2 L1288.3 604.2 L1288.3 616.7 L1267.3 616.7ZM1269.2 604.2L1269.2 616.7M1286.7 604.2L1286.7 616.7M1267.3 608.3L1288.3 608.3M1267.3 612.5L1288.3 612.5M1276.4 650.3 L1288.1 650.3 L1288.1 744.6 L1276.4 744.6ZM1280.2 650.3L1280.2 744.6M1284.1 650.3L1284.1 744.6M1276.4 653.5L1288.1 653.5M1276.4 682.5L1288.1 682.5M1276.4 713.3L1288.1 713.3M1276.4 741.6L1288.1 741.6M1396.1 614.5 L1408.2 614.5 L1408.2 635.5 L1396.1 635.5ZM1400 614.5L1400 635.5M1404 614.5L1404 635.5M1396.1 617.5L1408.2 617.5M1396.1 631L1408.2 631M1396.1 669.2 L1408.2 669.2 L1408.2 744.6 L1396.1 744.6ZM1400 669.2L1400 744.6M1404 669.2L1404 744.6M1396.1 672L1408.2 672M1396.1 694.6L1408.2 694.6M1396.1 720L1408.2 720M1396.1 741.8L1408.2 741.8M1349.98 630.8 L1333.42 630.8 L1321.7 642.52 L1321.7 659.08 L1333.42 670.8 L1349.98 670.8 L1361.7 659.08 L1361.7 642.52ZM1348.53 634.3 L1334.87 634.3 L1325.2 643.97 L1325.2 657.63 L1334.87 667.3 L1348.53 667.3 L1358.2 657.63 L1358.2 643.97ZM1335 634.6L1348.3 665.8M1325.8 657L1357.9 644.2M1350.28 704.4 L1333.72 704.4 L1322 716.12 L1322 732.68 L1333.72 744.4 L1350.28 744.4 L1362 732.68 L1362 716.12ZM1348.01 709.9 L1335.99 709.9 L1327.5 718.39 L1327.5 730.41 L1335.99 738.9 L1348.01 738.9 L1356.5 730.41 L1356.5 718.39ZM1345.81 715.2 L1338.19 715.2 L1332.8 720.59 L1332.8 728.21 L1338.19 733.6 L1345.81 733.6 L1351.2 728.21 L1351.2 720.59ZM1350.28 704.4L1345.81 715.2M1333.72 704.4L1338.19 715.2M1322 716.12L1332.8 720.59M1322 732.68L1332.8 728.21M1333.72 744.4L1338.19 733.6M1350.28 744.4L1345.81 733.6M1362 732.68L1351.2 728.21M1362 716.12L1351.2 720.59M1332.8 720.59L1351.2 728.21M1339.19 733.6L1344.81 715.2M1279.3 1408.3 L1291 1408.3 L1291 1502.5 L1279.3 1502.5ZM1283.1 1408.3L1283.1 1502.5M1287.1 1408.3L1287.1 1502.5M1279.3 1411L1291 1411M1279.3 1440.8L1291 1440.8M1279.3 1471.7L1291 1471.7M1279.3 1499.8L1291 1499.8M1324.45 1408.5 L1400.6 1408.5 L1400.6 1420.5 L1324.45 1420.5ZM1326 1408.5L1326 1420.5M1349.8 1408.5L1349.8 1420.5M1374.8 1408.5L1374.8 1420.5M1398.3 1408.5L1398.3 1420.5M1324.45 1413L1400.6 1413M1324.45 1417L1400.6 1417M1434.2 1400.2 L1446.3 1400.2 L1446.3 1420.6 L1434.2 1420.6ZM1438.1 1400.2L1438.1 1420.6M1442.2 1400.2L1442.2 1420.6M1434.2 1403.4L1446.3 1403.4M1434.2 1417.4L1446.3 1417.4M1376.6 1454.4 L1388.6 1454.4 L1388.6 1475.6 L1376.6 1475.6ZM1380.6 1454.4L1380.6 1475.6M1384.5 1454.4L1384.5 1475.6M1376.6 1458.75L1388.6 1458.75M1376.6 1472.2L1388.6 1472.2M1422.7 1454.4 L1434.7 1454.4 L1434.7 1475.6 L1422.7 1475.6ZM1426.7 1454.4L1426.7 1475.6M1430.6 1454.4L1430.6 1475.6M1422.7 1458.75L1434.7 1458.75M1422.7 1472.2L1434.7 1472.2M1337.57 1454.3 L1330.03 1454.3 L1324.7 1459.63 L1324.7 1467.17 L1330.03 1472.5 L1337.57 1472.5 L1342.9 1467.17 L1342.9 1459.63ZM1335.71 1458.8 L1331.89 1458.8 L1329.2 1461.49 L1329.2 1465.31 L1331.89 1468 L1335.71 1468 L1338.4 1465.31 L1338.4 1461.49ZM1337.57 1454.3L1335.71 1458.8M1330.03 1454.3L1331.89 1458.8M1324.7 1459.63L1329.2 1461.49M1324.7 1467.17L1329.2 1465.31M1330.03 1472.5L1331.89 1468M1337.57 1472.5L1335.71 1468M1342.9 1467.17L1338.4 1465.31M1342.9 1459.63L1338.4 1461.49M1331.89 1458.8L1335.71 1468M1329.2 1465.31L1338.4 1461.49M1155.7 1537 L1328.5 1537 L1328.5 1903 L1155.7 1903ZM1174.2 1537L1174.2 1903M1309.9 1537L1309.9 1903M1325.5 1537L1325.5 1903M1155.7 1555.3L1328.5 1555.3M1155.7 1573.6L1328.5 1573.6M1155.7 1591.9L1328.5 1591.9M1155.7 1610.2L1328.5 1610.2M1155.7 1628.5L1328.5 1628.5M1155.7 1646.8L1328.5 1646.8M1155.7 1665.1L1328.5 1665.1M1155.7 1683.4L1328.5 1683.4M1155.7 1701.7L1328.5 1701.7M1155.7 1720L1328.5 1720M1155.7 1738.3L1328.5 1738.3M1155.7 1756.6L1328.5 1756.6M1155.7 1774.9L1328.5 1774.9M1155.7 1793.2L1328.5 1793.2M1155.7 1811.5L1328.5 1811.5M1155.7 1829.8L1328.5 1829.8M1155.7 1848.1L1328.5 1848.1M1155.7 1866.4L1328.5 1866.4M1155.7 1884.7L1328.5 1884.7M17.2 1087 L947.6 1087 L947.6 1902.9 L17.2 1902.9ZM25.8 1087L25.8 1902.9M71.4 1087L71.4 1902.9M211.7 1087L211.7 1902.9M762.6 1087L762.6 1902.9M912.8 1087L912.8 1902.9M939.2 1087L939.2 1902.9M17.2 1127L947.6 1127M17.2 1172.5L947.6 1172.5M17.2 1205.8L947.6 1205.8M17.2 1250.6L947.6 1250.6M17.2 1291.1L947.6 1291.1M17.2 1331.1L947.6 1331.1M17.2 1378.6L947.6 1378.6M17.2 1407.1L947.6 1407.1M17.2 1455.2L947.6 1455.2M17.2 1495L947.6 1495M17.2 1534.9L947.6 1534.9M17.2 1579.8L947.6 1579.8M17.2 1613.8L947.6 1613.8M17.2 1659.1L947.6 1659.1M17.2 1698.8L947.6 1698.8M17.2 1739L947.6 1739M17.2 1787.3L947.6 1787.3M17.2 1814.9L947.6 1814.9M17.2 1863.2L947.6 1863.2M1004.34 1389.6 L999.71 1415.25 L995.76 1440.9 L992.41 1466.55 L989.64 1492.2 L987.39 1517.85 L985.63 1543.5 L984.33 1569.15 L983.47 1594.8 L983.03 1620.45 L983 1646.1 L983.38 1671.75 L984.16 1697.4 L985.37 1723.05 L987.01 1748.7 L989.11 1774.35 L991.69 1800 L994.79 1825.65 L998.45 1851.3 L1002.72 1876.95 L1007.65 1902.6M1010.44 1390.73 L1005.77 1416.27 L1001.77 1441.8 L998.4 1467.34 L995.6 1492.88 L993.33 1518.42 L991.55 1543.95 L990.24 1569.49 L989.37 1595.03 L988.91 1620.57 L988.87 1646.11 L989.24 1671.64 L990.02 1697.18 L991.22 1722.72 L992.85 1748.26 L994.94 1773.79 L997.52 1799.33 L1000.63 1824.87 L1004.3 1850.41 L1008.59 1875.94 L1013.54 1901.48M1043.99 1396.93 L1039.06 1421.85 L1034.86 1446.77 L1031.32 1471.69 L1028.39 1496.61 L1026 1521.53 L1024.13 1546.45 L1022.73 1571.37 L1021.78 1596.29 L1021.27 1621.21 L1021.17 1646.13 L1021.48 1671.05 L1022.21 1695.97 L1023.37 1720.89 L1024.98 1745.81 L1027.05 1770.73 L1029.64 1795.65 L1032.76 1820.57 L1036.49 1845.49 L1040.86 1870.41 L1045.95 1895.33M1100.99 1407.48 L1095.64 1431.35 L1091.09 1455.22 L1087.27 1479.09 L1084.1 1502.96 L1081.52 1526.83 L1079.48 1550.7 L1077.94 1574.57 L1076.87 1598.44 L1076.25 1622.31 L1076.05 1646.18 L1076.27 1670.05 L1076.92 1693.92 L1078.01 1717.79 L1079.57 1741.66 L1081.62 1765.53 L1084.2 1789.4 L1087.37 1813.27 L1091.18 1837.14 L1095.71 1861.01 L1101.02 1884.88M1105.92 1408.39 L1100.53 1432.17 L1095.95 1455.95 L1092.1 1479.73 L1088.91 1503.51 L1086.31 1527.29 L1084.26 1551.07 L1082.71 1574.85 L1081.63 1598.63 L1081 1622.41 L1080.79 1646.19 L1081.01 1669.97 L1081.65 1693.75 L1082.74 1717.52 L1084.29 1741.3 L1086.33 1765.08 L1088.92 1788.86 L1092.09 1812.64 L1095.91 1836.42 L1100.45 1860.2 L1105.78 1883.98M1108.5 1408.87 L1103.09 1432.6 L1098.5 1456.33 L1094.63 1480.07 L1091.43 1503.8 L1088.83 1527.53 L1086.77 1551.26 L1085.21 1574.99 L1084.13 1598.72 L1083.49 1622.46 L1083.27 1646.19 L1083.49 1669.92 L1084.13 1693.65 L1085.21 1717.38 L1086.76 1741.12 L1088.8 1764.85 L1091.39 1788.58 L1094.56 1812.31 L1098.38 1836.04 L1102.93 1859.78 L1108.27 1883.51M1111.08 1409.35 L1105.65 1433.03 L1101.04 1456.72 L1097.17 1480.4 L1093.95 1504.08 L1091.34 1527.77 L1089.27 1551.45 L1087.71 1575.14 L1086.62 1598.82 L1085.97 1622.51 L1085.76 1646.19 L1085.97 1669.88 L1086.6 1693.56 L1087.68 1717.24 L1089.23 1740.93 L1091.27 1764.61 L1093.86 1788.3 L1097.03 1811.98 L1100.86 1835.67 L1105.41 1859.35 L1110.77 1883.03M1119.76 1410.95 L1114.27 1434.48 L1109.61 1458 L1105.69 1481.53 L1102.44 1505.05 L1099.79 1528.58 L1097.7 1552.1 L1096.12 1575.62 L1095.01 1599.15 L1094.35 1622.67 L1094.11 1646.2 L1094.31 1669.72 L1094.93 1693.25 L1096 1716.77 L1097.54 1740.3 L1099.58 1763.82 L1102.17 1787.35 L1105.35 1810.87 L1109.19 1834.39 L1113.76 1857.92 L1119.15 1881.44M1121.64 1411.3 L1116.13 1434.79 L1111.46 1458.28 L1107.53 1481.77 L1104.27 1505.26 L1101.62 1528.75 L1099.53 1552.24 L1097.94 1575.73 L1096.82 1599.22 L1096.16 1622.71 L1095.92 1646.2 L1096.11 1669.69 L1096.74 1693.18 L1097.8 1716.67 L1099.34 1740.16 L1101.38 1763.65 L1103.96 1787.14 L1107.15 1810.63 L1110.99 1834.12 L1115.57 1857.61 L1120.96 1881.1M1004.34 1389.6L1121.64 1411.3M999.71 1415.25L1116.13 1434.79M995.76 1440.9L1111.46 1458.28M992.41 1466.55L1107.53 1481.77M989.64 1492.2L1104.27 1505.26M987.39 1517.85L1101.62 1528.75M985.63 1543.5L1099.53 1552.24M984.33 1569.15L1097.94 1575.73M983.47 1594.8L1096.82 1599.22M983.03 1620.45L1096.16 1622.71M983 1646.1L1095.92 1646.2M983.38 1671.75L1096.11 1669.69M984.16 1697.4L1096.74 1693.18M985.37 1723.05L1097.8 1716.67M987.01 1748.7L1099.34 1740.16M989.11 1774.35L1101.38 1763.65M991.69 1800L1103.96 1787.14M994.79 1825.65L1107.15 1810.63M998.45 1851.3L1110.99 1834.12M1002.72 1876.95L1115.57 1857.61M1007.65 1902.6L1120.96 1881.1M1468.4 195.3 L1532.5 195.3 L1532.5 195.3 L1532.5 1052.1 L1532.5 1052.1 L1468.4 1052.1 L1468.4 1052.1 L1468.4 195.3ZM1484.5 195.3L1484.5 1052.1M1500.5 195.3L1500.5 1052.1M1516.3 195.3L1516.3 1052.1M1468.4 203.4L1532.5 203.4M1468.4 221.4L1532.5 221.4M1468.4 430.6L1532.5 430.6M1468.4 752.9L1532.5 752.9M1468.4 883.6L1532.5 883.6M1468.4 964.8L1532.5 964.8M1468.4 1012.9L1532.5 1012.9M1468.4 1042L1532.5 1042M1468.4 1049.9L1532.5 1049.9M1567.4 17.6 L1587 17.6 L1587 17.6 L1587 1052.3 L1587 1052.3 L1567.4 1052.3 L1567.4 1052.3 L1567.4 17.6ZM1571 17.6L1571 1052.3M1577.2 17.6L1577.2 1052.3M1583.6 17.6L1583.6 1052.3M1567.4 44.9L1587 44.9M1567.4 71.4L1587 71.4M1567.4 97.4L1587 97.4M1567.4 123.7L1587 123.7M1567.4 149.7L1587 149.7M1567.4 175.8L1587 175.8M1567.4 201.6L1587 201.6M1567.4 227.2L1587 227.2M1567.4 252.84L1587 252.84M1567.4 278.49L1587 278.49M1567.4 304.13L1587 304.13M1567.4 329.77L1587 329.77M1567.4 355.41L1587 355.41M1567.4 381.06L1587 381.06M1567.4 406.7L1587 406.7M1567.4 433.1L1587 433.1M1567.4 458.75L1587 458.75M1567.4 484.8L1587 484.8M1567.4 510.8L1587 510.8M1567.4 537.3L1587 537.3M1567.4 563.3L1587 563.3M1567.4 589L1587 589M1567.4 615.4L1587 615.4M1567.4 641.5L1587 641.5M1567.4 667.5L1587 667.5M1567.4 693.5L1587 693.5M1567.4 719.2L1587 719.2M1567.4 744.6L1587 744.6M1567.4 769.6L1587 769.6M1567.4 794.88L1587 794.88M1567.4 820.15L1587 820.15M1567.4 845.43L1587 845.43M1567.4 870.7L1587 870.7M1567.4 896.5L1587 896.5M1567.4 922.2L1587 922.2M1567.4 948L1587 948M1567.4 973.7L1587 973.7M1567.4 999.5L1587 999.5M1567.4 1025.3L1587 1025.3M1567.9 21.2L1586.5 21.2M1567.6 1050L1586.8 1050M1621.8 133.5 L1641.2 133.5 L1641.2 133.5 L1641.2 1052.6 L1641.2 1052.6 L1621.8 1052.6 L1621.8 1052.6 L1621.8 133.5ZM1625.8 133.5L1625.8 1052.6M1631.5 133.5L1631.5 1052.6M1637.6 133.5L1637.6 1052.6M1621.8 158.2L1641.2 158.2M1621.8 181L1641.2 181M1621.8 203.8L1641.2 203.8M1621.8 226.6L1641.2 226.6M1621.8 249.23L1641.2 249.23M1621.8 271.87L1641.2 271.87M1621.8 294.5L1641.2 294.5M1621.8 316.93L1641.2 316.93M1621.8 339.35L1641.2 339.35M1621.8 361.77L1641.2 361.77M1621.8 384.2L1641.2 384.2M1621.8 408.1L1641.2 408.1M1621.8 430.6L1641.2 430.6M1621.8 454L1641.2 454M1621.8 476.9L1641.2 476.9M1621.8 499.8L1641.2 499.8M1621.8 521.7L1641.2 521.7M1621.8 545.2L1641.2 545.2M1621.8 568.5L1641.2 568.5M1621.8 591.5L1641.2 591.5M1621.8 614.4L1641.2 614.4M1621.8 637.9L1641.2 637.9M1621.8 661.25L1641.2 661.25M1621.8 684.2L1641.2 684.2M1621.8 707.1L1641.2 707.1M1621.8 730L1641.2 730M1621.8 752.9L1641.2 752.9M1621.8 775.8L1641.2 775.8M1621.8 798.27L1641.2 798.27M1621.8 820.75L1641.2 820.75M1621.8 843.23L1641.2 843.23M1621.8 865.7L1641.2 865.7M1621.8 889L1641.2 889M1621.8 912.2L1641.2 912.2M1621.8 935.3L1641.2 935.3M1621.8 958.4L1641.2 958.4M1621.8 981.6L1641.2 981.6M1621.8 1005.1L1641.2 1005.1M1621.8 1028L1641.2 1028M1622.2 137L1640.7 137M1622 1050.4L1641 1050.4M1517.2 1121.25 L1541.1 1121.25 L1541.1 1436 L1539.6 1468.6 L1519.9 1468.6 L1517.2 1436ZM1523 1121.25 L1523 1436 L1524.7 1468.6M1529.1 1121.25 L1529.1 1436 L1529.4 1468.6M1535 1121.25 L1535 1436 L1534.1 1468.6M1517.2 1122.8L1541.1 1122.8M1517.2 1124.6L1541.1 1124.6M1517.2 1126.3L1541.1 1126.3M1517.2 1131.3L1541.1 1131.3M1517.2 1132.6L1541.1 1132.6M1517.2 1134.6L1541.1 1134.6M1517.2 1143.75L1541.1 1143.75M1517.2 1152.9L1541.1 1152.9M1517.2 1162.3L1541.1 1162.3M1517.2 1171.6L1541.1 1171.6M1517.2 1180.8L1541.1 1180.8M1517.2 1190L1541.1 1190M1517.2 1199.2L1541.1 1199.2M1517.2 1208.3L1541.1 1208.3M1517.2 1217.7L1541.1 1217.7M1517.2 1227.2L1541.1 1227.2M1517.2 1236.5L1541.1 1236.5M1517.2 1245.4L1541.1 1245.4M1517.2 1254.4L1541.1 1254.4M1517.2 1263.3L1541.1 1263.3M1517.2 1272L1541.1 1272M1517.2 1281.5L1541.1 1281.5M1517.2 1290.8L1541.1 1290.8M1517.2 1299.9L1541.1 1299.9M1517.2 1308.1L1541.1 1308.1M1517.2 1316.3L1541.1 1316.3M1517.2 1324.4L1541.1 1324.4M1517.2 1333L1541.1 1333M1517.2 1341.4L1541.1 1341.4M1517.2 1350.2L1541.1 1350.2M1517.2 1359.1L1541.1 1359.1M1517.2 1367.9L1541.1 1367.9M1517.2 1376.8L1541.1 1376.8M1517.2 1385.6L1541.1 1385.6M1517.2 1394.5L1541.1 1394.5M1517.2 1403L1541.1 1403M1517.2 1411.7L1541.1 1411.7M1517.2 1420.4L1541.1 1420.4M1517.2 1429.2L1541.1 1429.2M1517.38 1438.2L1541 1438.2M1517.91 1444.6L1540.7 1444.6M1518.48 1451.4L1540.39 1451.4M1519.01 1457.9L1540.09 1457.9M1576.5 1335.4 L1594.8 1335.4 L1594.8 1335.4 L1594.8 1903.1 L1594.8 1903.1 L1576.5 1903.1 L1576.5 1903.1 L1576.5 1335.4ZM1582.2 1335.4L1582.2 1903.1M1591.5 1335.4L1591.5 1903.1M1576.5 1335.6L1594.8 1335.6M1576.5 1336.6L1594.8 1336.6M1576.5 1363.97L1594.8 1363.97M1576.5 1364.97L1594.8 1364.97M1576.5 1392.34L1594.8 1392.34M1576.5 1393.34L1594.8 1393.34M1576.5 1420.71L1594.8 1420.71M1576.5 1421.71L1594.8 1421.71M1576.5 1449.08L1594.8 1449.08M1576.5 1450.08L1594.8 1450.08M1576.5 1477.45L1594.8 1477.45M1576.5 1478.45L1594.8 1478.45M1576.5 1505.82L1594.8 1505.82M1576.5 1506.82L1594.8 1506.82M1576.5 1534.19L1594.8 1534.19M1576.5 1535.19L1594.8 1535.19M1576.5 1562.56L1594.8 1562.56M1576.5 1563.56L1594.8 1563.56M1576.5 1590.93L1594.8 1590.93M1576.5 1591.93L1594.8 1591.93M1576.5 1619.3L1594.8 1619.3M1576.5 1620.3L1594.8 1620.3M1576.5 1647.67L1594.8 1647.67M1576.5 1648.67L1594.8 1648.67M1576.5 1676.04L1594.8 1676.04M1576.5 1677.04L1594.8 1677.04M1576.5 1704.41L1594.8 1704.41M1576.5 1705.41L1594.8 1705.41M1576.5 1732.78L1594.8 1732.78M1576.5 1733.78L1594.8 1733.78M1576.5 1761.15L1594.8 1761.15M1576.5 1762.15L1594.8 1762.15M1576.5 1789.52L1594.8 1789.52M1576.5 1790.52L1594.8 1790.52M1576.5 1817.89L1594.8 1817.89M1576.5 1818.89L1594.8 1818.89M1576.5 1846.26L1594.8 1846.26M1576.5 1847.26L1594.8 1847.26M1576.5 1874.63L1594.8 1874.63M1576.5 1875.63L1594.8 1875.63M1628.9 1335.4 L1652.5 1335.4 L1652.5 1650 L1651 1682.5 L1631.5 1682.5 L1628.9 1650ZM1634.9 1335.4 L1634.9 1650 L1636 1682.5M1640.9 1335.4 L1640.9 1650 L1641.2 1682.5M1646.8 1335.4 L1646.8 1650 L1646.5 1682.5M1628.9 1337.2L1652.5 1337.2M1628.9 1338.8L1652.5 1338.8M1628.9 1347.6L1652.5 1347.6M1628.9 1349L1652.5 1349M1628.9 1358L1652.5 1358M1628.9 1366.9L1652.5 1366.9M1628.9 1376.25L1652.5 1376.25M1628.9 1385.1L1652.5 1385.1M1628.9 1394.5L1652.5 1394.5M1628.9 1403.3L1652.5 1403.3M1628.9 1412.7L1652.5 1412.7M1628.9 1421.6L1652.5 1421.6M1628.9 1430.9L1652.5 1430.9M1628.9 1439.8L1652.5 1439.8M1628.9 1449.2L1652.5 1449.2M1628.9 1458L1652.5 1458M1628.9 1467.4L1652.5 1467.4M1628.9 1476.25L1652.5 1476.25M1628.9 1485.6L1652.5 1485.6M1628.9 1494.5L1652.5 1494.5M1628.9 1504L1652.5 1504M1628.9 1513.3L1652.5 1513.3M1628.9 1521.6L1652.5 1521.6M1628.9 1530L1652.5 1530M1628.9 1537.8L1652.5 1537.8M1628.9 1545.9L1652.5 1545.9M1628.9 1553.75L1652.5 1553.75M1628.9 1562.2L1652.5 1562.2M1628.9 1571.9L1652.5 1571.9M1628.9 1581.9L1652.5 1581.9M1628.9 1590L1652.5 1590M1628.9 1598.75L1652.5 1598.75M1628.9 1607.5L1652.5 1607.5M1628.9 1616.3L1652.5 1616.3M1628.9 1625.2L1652.5 1625.2M1628.9 1634.1L1652.5 1634.1M1628.9 1642.7L1652.5 1642.7M1629.05 1651.9L1652.41 1651.9M1629.58 1658.5L1652.11 1658.5M1630.12 1665.3L1651.79 1665.3M1630.65 1671.9L1651.49 1671.9"/>
</svg>
</body></html>
